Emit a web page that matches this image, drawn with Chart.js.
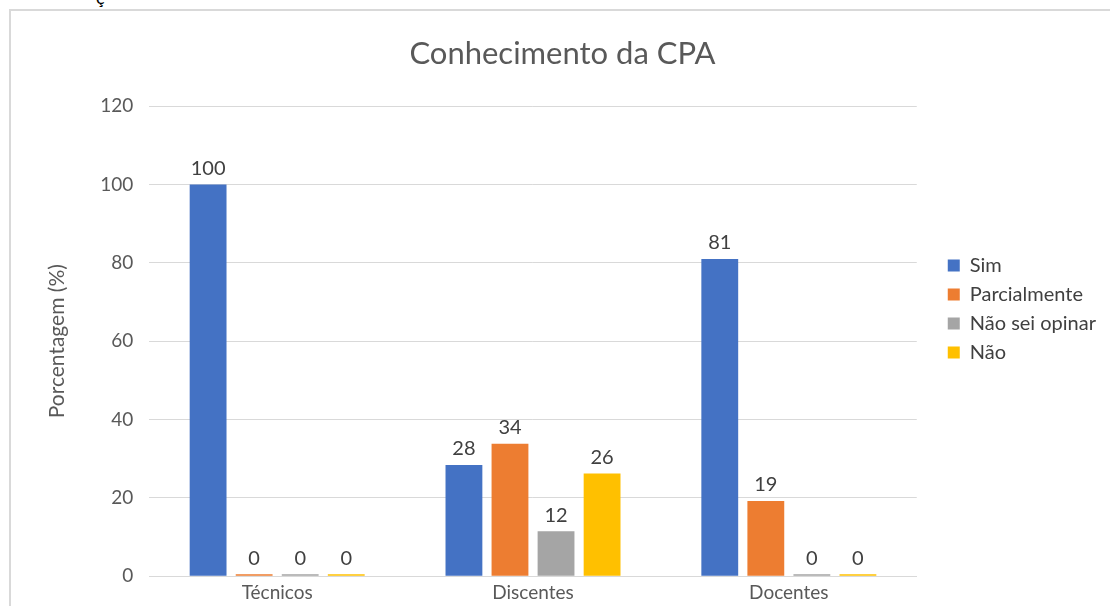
<!DOCTYPE html>
<html>
<head>
<meta charset="utf-8">
<script src="https://cdn.jsdelivr.net/npm/chart.js@4.4.0/dist/chart.umd.min.js"></script>
<style>
  body { margin: 0; background: #fff; overflow: hidden; }
  #frame { position: absolute; left: 9px; top: 9px; border-left: 2px solid #d9d9d9; border-top: 2px solid #d9d9d9; }
  #cut { position: absolute; left: 96px; top: -14px; font: 18px Lato, sans-serif; color: #000; }
</style>
</head>
<body>
<div id="cut">ç</div>
<div id="frame"><canvas id="myChart" width="1101" height="610"></canvas></div>
<script>
let categorias = ['Técnicos', 'Discentes', 'Docentes'];
let sim = [100, 28.4, 81];
let parcialmente = [0, 33.8, 19.2];
let naoSei = [0, 11.5, 0];
let nao = [0, 26.2, 0];
let cores = ['#4472C4', '#ED7D31', '#A5A5A5', '#FFC000'];

let fonte = 'Lato, "Open Sans", sans-serif';

// rótulos de valor acima das barras
let rotulos = {
  id: 'rotulos',
  afterDatasetsDraw(chart) {
    let ctx = chart.ctx;
    ctx.save();
    ctx.font = '20px ' + fonte;
    ctx.fillStyle = '#404040';
    ctx.textAlign = 'center';
    ctx.textBaseline = 'bottom';
    chart.data.datasets.forEach((ds, i) => {
      chart.getDatasetMeta(i).data.forEach((bar, j) => {
        ctx.fillText(Math.round(ds.data[j]), bar.x, bar.y - 6);
      });
    });
    ctx.restore();
  }
};

// legenda um pouco mais à direita e mais acima
let moveLegenda = {
  id: 'moveLegenda',
  afterLayout(chart) {
    let lg = chart.legend;
    lg.left += 22; lg.right += 22;
    lg.top -= 9; lg.bottom -= 9;
  }
};

let myChart = document.getElementById('myChart').getContext('2d');

let chart = new Chart(myChart, {
  type: 'bar',
  data: {
    labels: categorias,
    datasets: [
      { label: 'Sim', data: sim, backgroundColor: cores[0] },
      { label: 'Parcialmente', data: parcialmente, backgroundColor: cores[1] },
      { label: 'Não sei opinar', data: naoSei, backgroundColor: cores[2] },
      { label: 'Não', data: nao, backgroundColor: cores[3] }
    ]
  },
  options: {
    responsive: false,
    devicePixelRatio: 1,
    animation: false,
    datasets: { bar: { barPercentage: 0.8, categoryPercentage: 0.72, minBarLength: 2 } },
    layout: { padding: { left: 30, right: 28, top: 24, bottom: 20 } },
    plugins: {
      title: {
        display: true,
        text: 'Conhecimento da CPA',
        color: '#595959',
        font: { family: fonte, size: 31, weight: 'normal' },
        padding: { top: 0, bottom: 34 }
      },
      legend: {
        position: 'right',
        labels: {
          boxWidth: 12,
          boxHeight: 12,
          padding: 9,
          color: '#404040',
          font: { family: fonte, size: 20 }
        }
      },
      tooltip: { enabled: false }
    },
    scales: {
      x: {
        grid: { display: false },
        border: { color: '#d9d9d9', width: 1 },
        ticks: { color: '#595959', padding: -3, font: { family: fonte, size: 19 } }
      },
      y: {
        min: 0,
        max: 120,
        ticks: { stepSize: 20, color: '#595959', padding: 16, font: { family: fonte, size: 19 } },
        grid: { color: '#d9d9d9', drawTicks: false },
        border: { display: false },
        title: {
          display: true,
          text: 'Porcentagem (%)',
          color: '#595959',
          font: { family: fonte, size: 21 },
          padding: { bottom: 14 }
        }
      }
    }
  },
  plugins: [rotulos, moveLegenda]
});
</script>
</body>
</html>
